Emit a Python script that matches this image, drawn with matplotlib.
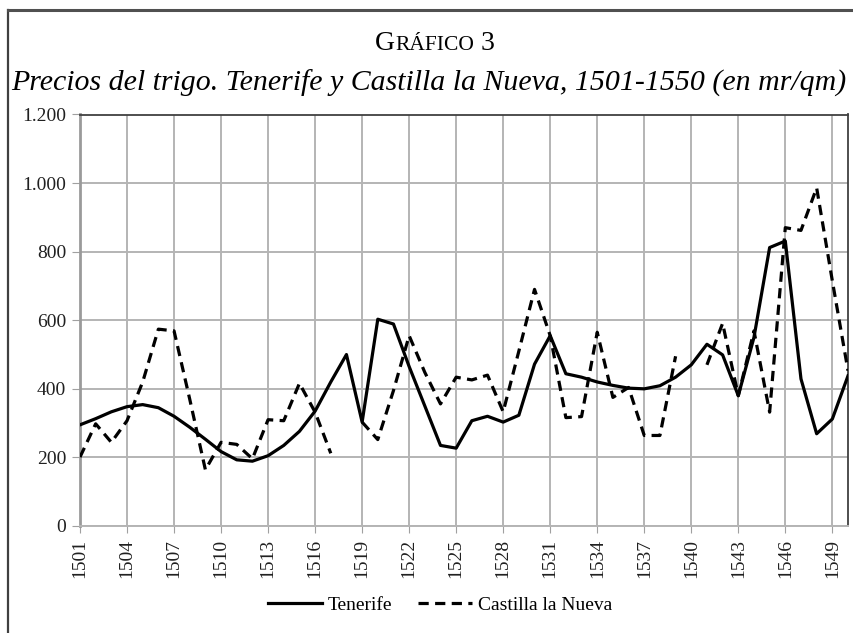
import numpy as np
import matplotlib
matplotlib.use('Agg')
import matplotlib.pyplot as plt
from matplotlib.ticker import FuncFormatter

years = list(range(1501, 1551))

tenerife = [295, 313, 333, 348, 354, 345, 320, 288, 253, 217,
            193, 189, 205, 235, 276, 335, 420, 500, 303, 603,
            589, 465, 350, 235, 227, 307, 320, 303, 323, 472,
            555, 444, 434, 420, 410, 402, 400, 409, 434, 470,
            530, 499, 380, 550, 812, 831, 429, 269, 312, 438]

castilla = [201, 298, 244, 307, 420, 574, 569, 370, 164, 244,
            238, 196, 310, 307, 416, 332, 212, np.nan, 303, 252,
            395, 555, 448, 356, 434, 426, 440, 333, 510, 690,
            555, 316, 319, 565, 375, 404, 264, 264, 495, np.nan,
            470, 591, 380, 569, 332, 870, 862, 986, 715, 453]

x_ticks = list(range(1501, 1551, 3))
y_ticks = [0, 200, 400, 600, 800, 1000, 1200]

plt.rcParams['font.family'] = ['Liberation Serif', 'DejaVu Serif']

W, H = 854, 633
fig = plt.figure(figsize=(W / 100, H / 100), dpi=100)
ax = fig.add_axes([80 / W, 1 - 526 / H, (848 - 80) / W, (526 - 114.5) / H])

ax.plot(years, tenerife, color='black', lw=2.3, label='Tenerife', zorder=3)
ax.plot(years, castilla, color='black', lw=2.3, linestyle=(0, (3.2, 2.0)),
        label='Castilla la Nueva', zorder=3)

ax.set_xlim(1501, 1550)
ax.set_ylim(0, 1200)
ax.set_xticks(x_ticks)
ax.set_yticks(y_ticks)
ax.yaxis.set_major_formatter(FuncFormatter(lambda v, p: f'{int(v):,}'.replace(',', '.')))
ax.tick_params(axis='x', rotation=90, labelsize=14, length=5, color='#a0a0a0', pad=4)
ax.tick_params(axis='y', labelsize=14, length=6, color='#a0a0a0', pad=4)
for lab in ax.get_yticklabels() + ax.get_xticklabels():
    lab.set_color('#202020')

ax.grid(True, color='#b4b4b4', lw=1.4)
ax.set_axisbelow(True)
ax.spines['left'].set_color('#9a9a9a')
ax.spines['left'].set_linewidth(2)
ax.spines['bottom'].set_color('#b4b4b4')
ax.spines['bottom'].set_linewidth(1.4)
ax.spines['top'].set_color('#404040')
ax.spines['top'].set_linewidth(1.3)
ax.spines['right'].set_color('#404040')
ax.spines['right'].set_linewidth(1.3)

# outer frame (left and top visible)
fig.add_artist(plt.Line2D([8 / W, 8 / W], [0, 1 - 10 / H], transform=fig.transFigure,
                          color='#404040', lw=1.6))
fig.add_artist(plt.Line2D([8 / W, 1], [1 - 10 / H, 1 - 10 / H], transform=fig.transFigure,
                          color='#505050', lw=2.2))

# small caps title
fig.canvas.draw()
r = fig.canvas.get_renderer()
parts = [('G', 20), ('RÁFICO', 15.5), (' 3', 20)]
objs = [fig.text(0, 1 - 50 / H, s, fontsize=fs, ha='left', va='baseline') for s, fs in parts]
widths = [o.get_window_extent(r).width for o in objs]
x0 = 435 - sum(widths) / 2
for o, w in zip(objs, widths):
    o.set_x(x0 / W)
    x0 += w

fig.text(429 / W, 1 - 91 / H, 'Precios del trigo. Tenerife y Castilla la Nueva, 1501-1550 (en mr/qm)',
         fontsize=21.5, style='italic', ha='center', va='baseline')

fig.legend(loc='center', bbox_to_anchor=(440 / W, 1 - 605 / H), ncol=2, frameon=False,
           fontsize=14, handlelength=2.8, handletextpad=0.3, columnspacing=1.3)

fig.savefig('out.png', dpi=100)
